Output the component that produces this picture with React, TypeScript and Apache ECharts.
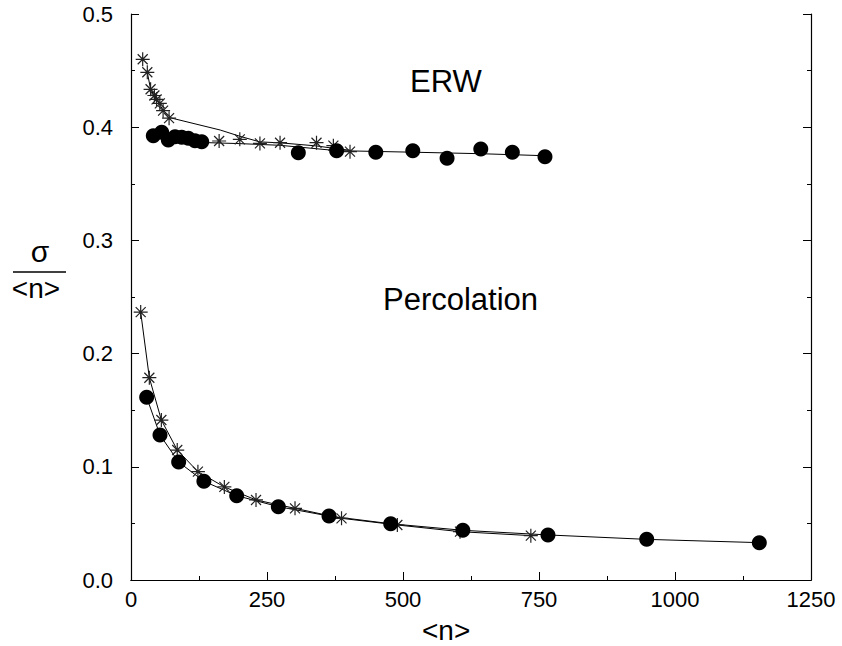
import React, { useEffect, useRef } from "react";
import * as echarts from "echarts";

// ERW data (markers)
const erwStars: number[][] = [
  [21.5, 0.46], [30, 0.4485], [36, 0.4335], [43, 0.428], [47, 0.4246], [53, 0.421],
  [59, 0.4146], [70, 0.408], [162, 0.3878], [200, 0.3893], [237, 0.3857], [274, 0.3863],
  [341, 0.3863], [372, 0.3837], [402.6, 0.3784],
];
const erwCircles: number[][] = [
  [41, 0.3925], [56.4, 0.3955], [68.6, 0.3887], [80.9, 0.3916], [93.2, 0.3911],
  [105.3, 0.3902], [117.6, 0.3881], [130, 0.3872], [307.6, 0.3775], [378, 0.3793],
  [450, 0.3778], [518, 0.3793], [581, 0.3725], [643, 0.3807], [701, 0.3778], [761, 0.374],
];
// ERW fitted curves
const erwStarCurve: number[][] = [
  [30, 0.4485], [36, 0.4335], [47, 0.4246], [59, 0.415], [75, 0.408], [164, 0.3975],
  [200, 0.392], [237, 0.387], [274, 0.3862], [340, 0.3835], [378, 0.381], [405, 0.3795],
];
const erwCircleCurve: number[][] = [
  [41, 0.3925], [56, 0.393], [80, 0.391], [105, 0.389], [130, 0.3865], [200, 0.3855],
  [274, 0.384], [378, 0.3793], [519, 0.3779], [642, 0.3766], [761, 0.3748],
];
// Percolation data
const percStars: number[][] = [
  [17.8, 0.2367], [33.7, 0.1787], [55.8, 0.1413], [85, 0.1148], [123, 0.0957],
  [171.6, 0.0822], [229.8, 0.0707], [301.5, 0.0633], [387, 0.0545], [489.6, 0.0486],
  [604.8, 0.0427], [735, 0.0392],
];
const percCircles: number[][] = [
  [28.8, 0.1614], [53.3, 0.1281], [87.6, 0.1042], [134, 0.0872], [194.3, 0.0745],
  [270.8, 0.0648], [364, 0.0565], [477.4, 0.0497], [610, 0.0439], [766.5, 0.0398],
  [948, 0.0359], [1155, 0.033],
];

const STAR = "path://M0,-7L0,7M-7,0L7,0M-5,-5L5,5M-5,5L5,-5";
const FONT = "Liberation Sans, Arial, sans-serif";

export default function App() {
  const ref = useRef<HTMLDivElement>(null);
  useEffect(() => {
    if (!ref.current) return;
    const chart = echarts.init(ref.current, undefined, { renderer: "svg" });
    const lineSeries = (data: number[][]) => ({
      type: "line",
      data,
      showSymbol: false,
      symbol: "none",
      lineStyle: { color: "#000", width: 1 },
      z: 1,
    });
    const starSeries = (data: number[][]) => ({
      type: "scatter",
      data,
      symbol: STAR,
      symbolSize: 14,
      itemStyle: { color: "none", borderColor: "#222", borderWidth: 1.2, opacity: 1 },
      z: 3,
    });
    const circleSeries = (data: number[][]) => ({
      type: "scatter",
      data,
      symbol: "circle",
      symbolSize: 15,
      itemStyle: { color: "#000", opacity: 1 },
      z: 4,
    });
    const axisCommon = {
      axisLine: { show: true, onZero: false, lineStyle: { color: "#000", width: 1.2 } },
      axisTick: { show: true, inside: true, length: 8, lineStyle: { color: "#000" } },
      minorTick: { show: true, splitNumber: 2, length: 4, lineStyle: { color: "#000" } },
      splitLine: { show: false },
    };
    chart.setOption({
      animation: false,
      backgroundColor: "#fff",
      grid: { left: 131, top: 14, width: 680, height: 566, containLabel: false },
      xAxis: [
        {
          type: "value",
          min: 0,
          max: 1250,
          interval: 250,
          ...axisCommon,
          axisLabel: {
            color: "#000",
            fontSize: 22,
            fontFamily: FONT,
            margin: 8,
            formatter: (v: number) => String(v),
          },
        },
        {
          type: "value",
          position: "top",
          min: 0,
          max: 1250,
          interval: 250,
          axisLine: { show: true, lineStyle: { color: "#000", width: 1.2 } },
          axisTick: { show: false },
          axisLabel: { show: false },
          splitLine: { show: false },
        },
      ],
      yAxis: [
        {
          type: "value",
          min: 0,
          max: 0.5,
          interval: 0.1,
          ...axisCommon,
          axisLabel: {
            color: "#000",
            fontSize: 22,
            fontFamily: FONT,
            margin: 18,
            formatter: (v: number) => v.toFixed(1),
          },
        },
        {
          type: "value",
          position: "right",
          min: 0,
          max: 0.5,
          interval: 0.1,
          ...axisCommon,
          axisLabel: { show: false },
        },
      ],
      series: [
        lineSeries(erwStarCurve),
        lineSeries(erwCircleCurve),
        lineSeries(percStars),
        lineSeries(percCircles),
        starSeries(erwStars),
        circleSeries(erwCircles),
        starSeries(percStars),
        circleSeries(percCircles),
      ],
      graphic: [
        { type: "text", left: 410, top: 66, style: { text: "ERW", font: `31px ${FONT}`, fill: "#000" } },
        { type: "text", left: 383, top: 284, style: { text: "Percolation", font: `31px ${FONT}`, fill: "#000" } },
        { type: "text", left: 422, top: 616, style: { text: "<n>", font: `28px ${FONT}`, fill: "#000" } },
        { type: "text", x: 40, y: 266, style: { text: "σ", font: `30px ${FONT}`, fill: "#000", align: "center", verticalAlign: "bottom" } },
        { type: "line", shape: { x1: 13, y1: 272, x2: 66, y2: 272 }, style: { stroke: "#000", lineWidth: 1.5 } },
        { type: "text", x: 36, y: 274, style: { text: "<n>", font: `28px ${FONT}`, fill: "#000", align: "center", verticalAlign: "top" } },
      ],
    });
    return () => chart.dispose();
  }, []);
  return (
    <div
      ref={ref}
      style={{ width: 842, height: 646, position: "fixed", left: 0, top: 0 }}
    />
  );
}
